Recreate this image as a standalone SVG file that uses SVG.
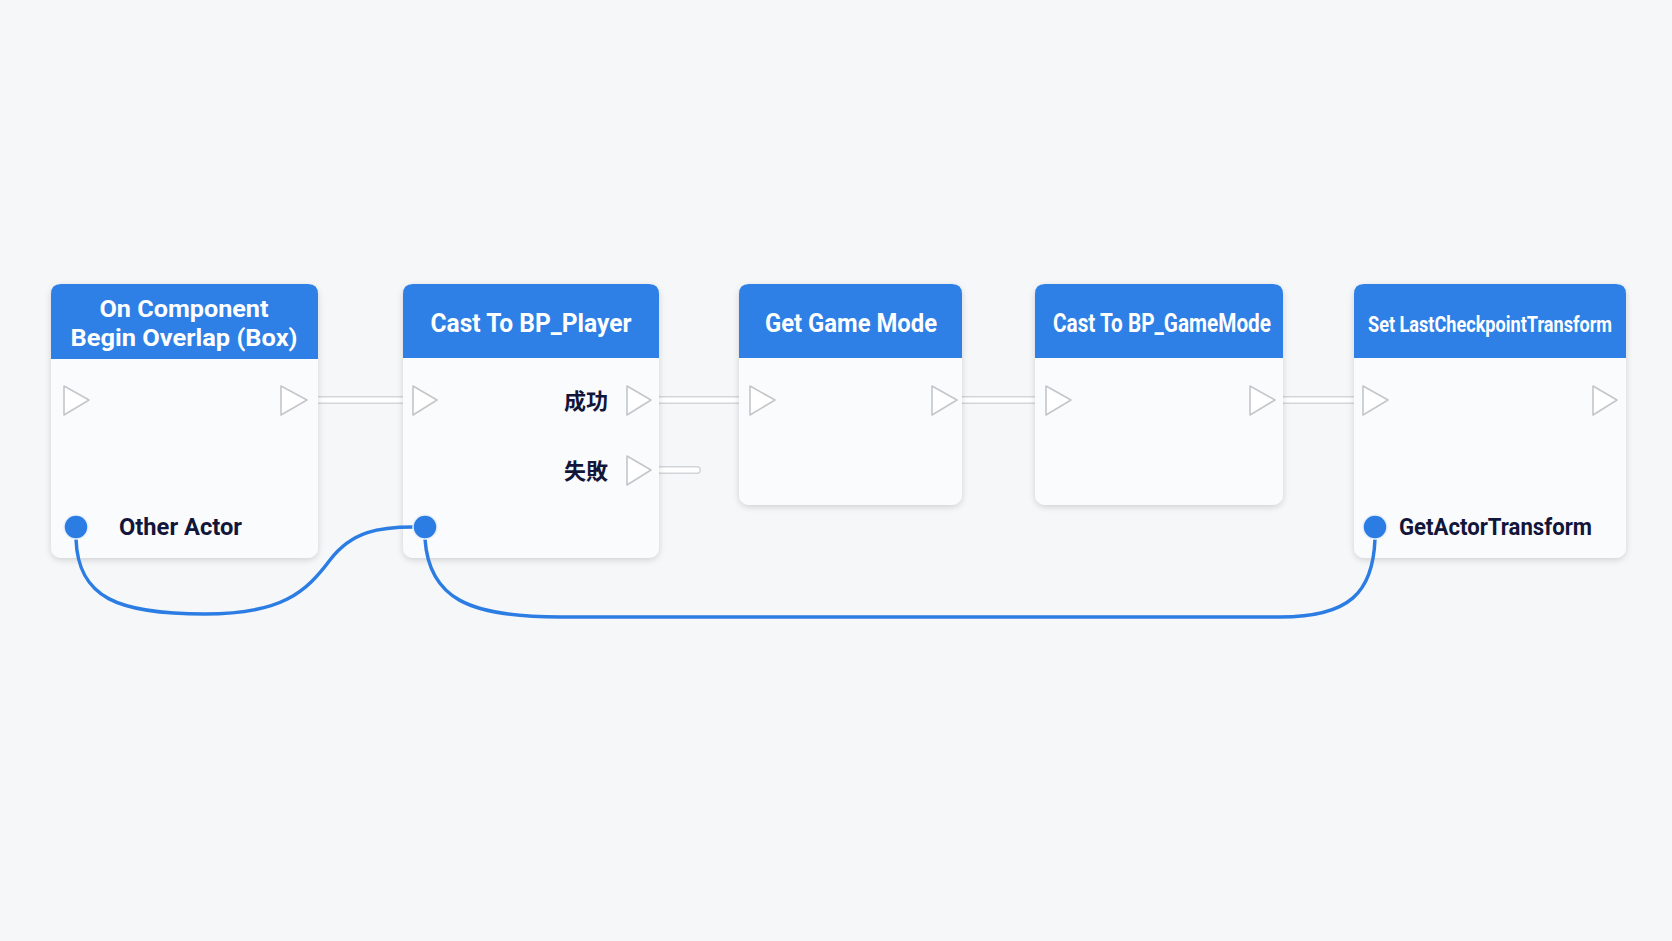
<svg xmlns="http://www.w3.org/2000/svg" width="1672" height="941" viewBox="0 0 1672 941">
<defs>
<filter id="sh" x="-10%" y="-10%" width="120%" height="125%">
<feDropShadow dx="0" dy="2" stdDeviation="3" flood-color="#000" flood-opacity="0.16"/>
</filter>
<style>
.body{fill:#fafbfc;filter:url(#sh)}
.head{fill:#2e7fe6}
.title{font-family:Roboto,"Liberation Sans",sans-serif;font-weight:700;fill:#ffffff;text-anchor:middle}
.narrow{font-family:"Liberation Sans Narrow",Roboto,"Liberation Sans",sans-serif}
.lbl{font-family:Roboto,"Liberation Sans",sans-serif;font-weight:700;font-size:23px;fill:#12163a}
.cjk{font-family:"Noto Sans CJK JP","Noto Sans CJK SC",sans-serif;font-weight:700;font-size:22px;fill:#12163a;text-anchor:end}
.pin{fill:#ffffff;stroke:#c4c6ca;stroke-width:1.6;stroke-linejoin:round}
.dot{fill:#2b7de3;stroke:#e8f0fb;stroke-width:1.5}
.wo{fill:none;stroke:#d3d5d9;stroke-width:8;stroke-linecap:round}
.wi{fill:none;stroke:#ffffff;stroke-width:5;stroke-linecap:round}
.dw{fill:none;stroke:#2b7de3;stroke-width:3.5;stroke-linecap:round}
</style>
</defs>
<rect width="1672" height="941" fill="#f6f7f9"/>

<g id="connectors">
<path class="wo" d="M307,400 H413 M651,400 H750 M651,470 H697 M957,400 H1046 M1275,400 H1363"/>
<path class="wi" d="M307,400 H413 M651,400 H750 M651,470 H697 M957,400 H1046 M1275,400 H1363"/>
</g>

<g id="node-overlap">
<rect class="body" x="51" y="284" width="267" height="274" rx="10"/>
<path class="head" d="M51,359 V294 Q51,284 61,284 H308 Q318,284 318,294 V359 Z"/>
<text class="title" x="184" y="317" font-size="24" textLength="169" lengthAdjust="spacingAndGlyphs">On Component</text>
<text class="title" x="184" y="346" font-size="24" textLength="227" lengthAdjust="spacingAndGlyphs">Begin Overlap (Box)</text>
<path class="pin" d="M64,386 L89,400 L64,415 Z"/>
<path class="pin" d="M281,386 L307,400 L281,415 Z"/>
<text class="lbl" x="119" y="535" textLength="123" lengthAdjust="spacingAndGlyphs">Other Actor</text>
</g>

<g id="node-castplayer">
<rect class="body" x="403" y="284" width="256" height="274" rx="10"/>
<path class="head" d="M403,358 V294 Q403,284 413,284 H649 Q659,284 659,294 V358 Z"/>
<text class="title" x="531" y="332" font-size="25" textLength="201" lengthAdjust="spacingAndGlyphs">Cast To BP_Player</text>
<path class="pin" d="M413,386 L437,400 L413,415 Z"/>
<text class="cjk" x="608" y="409">成功</text>
<path class="pin" d="M627,386 L651,400 L627,415 Z"/>
<text class="cjk" x="608" y="479">失敗</text>
<path class="pin" d="M627,456 L651,470 L627,485 Z"/>
</g>

<g id="node-getgamemode">
<rect class="body" x="739" y="284" width="223" height="221" rx="10"/>
<path class="head" d="M739,358 V294 Q739,284 749,284 H952 Q962,284 962,294 V358 Z"/>
<text class="title" x="851" y="332" font-size="25" textLength="172" lengthAdjust="spacingAndGlyphs">Get Game Mode</text>
<path class="pin" d="M750,386 L775,400 L750,415 Z"/>
<path class="pin" d="M932,386 L957,400 L932,415 Z"/>
</g>

<g id="node-castgamemode">
<rect class="body" x="1035" y="284" width="248" height="221" rx="10"/>
<path class="head" d="M1035,358 V294 Q1035,284 1045,284 H1273 Q1283,284 1283,294 V358 Z"/>
<text class="title narrow" x="1162" y="332" font-size="25" textLength="218" lengthAdjust="spacingAndGlyphs">Cast To BP_GameMode</text>
<path class="pin" d="M1046,386 L1071,400 L1046,415 Z"/>
<path class="pin" d="M1250,386 L1275,400 L1250,415 Z"/>
</g>

<g id="node-setcheckpoint">
<rect class="body" x="1354" y="284" width="272" height="274" rx="10"/>
<path class="head" d="M1354,358 V294 Q1354,284 1364,284 H1616 Q1626,284 1626,294 V358 Z"/>
<text class="title narrow" x="1490" y="332" font-size="21.5" textLength="244" lengthAdjust="spacingAndGlyphs">Set LastCheckpointTransform</text>
<path class="pin" d="M1363,386 L1388,400 L1363,415 Z"/>
<path class="pin" d="M1593,386 L1617,400 L1593,415 Z"/>
<text class="lbl" x="1399" y="535" textLength="193" lengthAdjust="spacingAndGlyphs">GetActorTransform</text>
</g>

<g id="data-wires">
<path class="dw" d="M76,539 C78,598 118,614 205,614 C282,614 306,592 330,560 C352,531 380,527 413,527"/>
<path class="dw" d="M425,539 C429,598 468,617 560,617 L1280,617 C1350,617 1373,592 1375,539"/>
<circle class="dot" cx="76" cy="527" r="12"/>
<circle class="dot" cx="425" cy="527" r="12"/>
<circle class="dot" cx="1375" cy="527" r="12"/>
</g>
</svg>
